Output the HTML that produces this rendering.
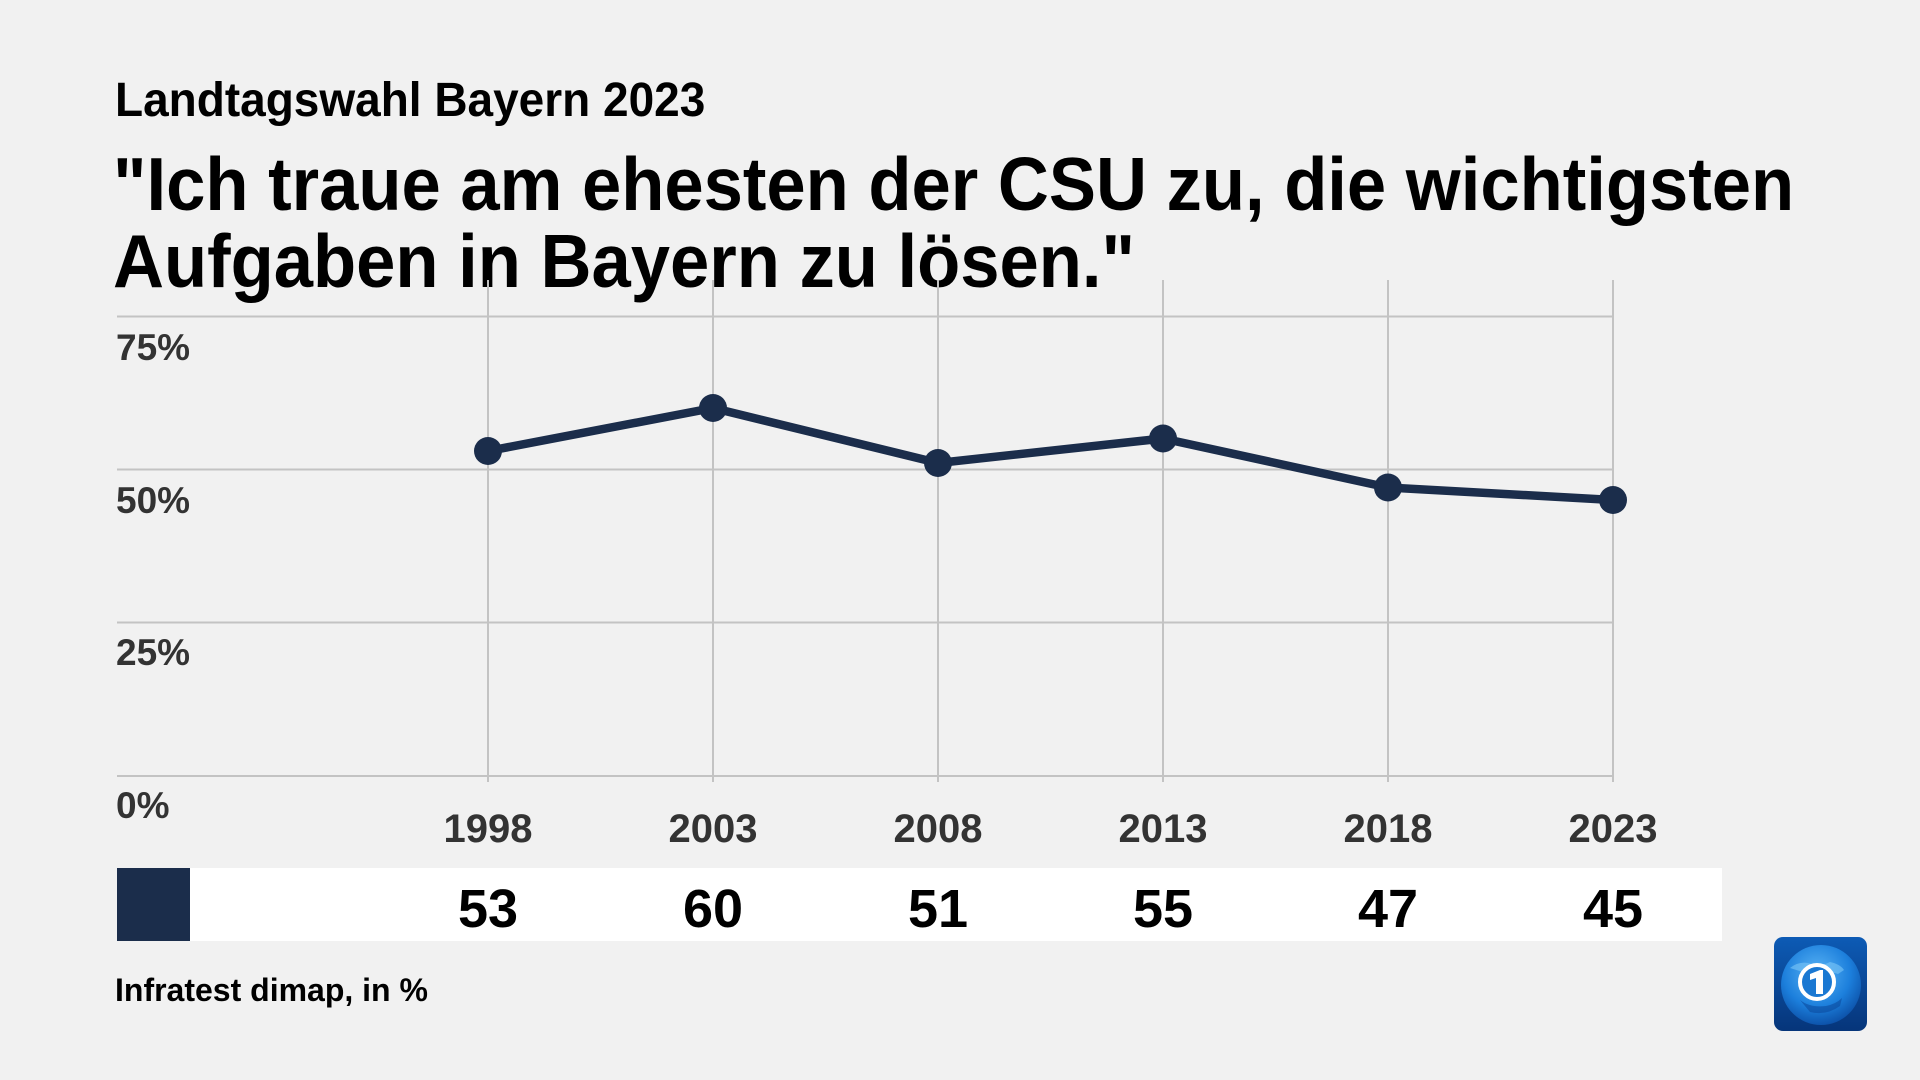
<!DOCTYPE html>
<html>
<head>
<meta charset="utf-8">
<style>
  html,body{margin:0;padding:0;background:#f1f1f1;}
  body{width:1920px;height:1080px;overflow:hidden;}
  svg{display:block;}
  text{font-family:"Liberation Sans",Arial,sans-serif;font-weight:bold;}
</style>
</head>
<body>
<svg width="1920" height="1080" viewBox="0 0 1920 1080" xmlns="http://www.w3.org/2000/svg">
  <defs>
    <linearGradient id="bg" x1="0" y1="0" x2="0" y2="1">
      <stop offset="0" stop-color="#0d5bb5"/>
      <stop offset="1" stop-color="#06357a"/>
    </linearGradient>
    <radialGradient id="globe" cx="0.45" cy="0.35" r="0.7">
      <stop offset="0" stop-color="#5ab4f5"/>
      <stop offset="0.6" stop-color="#1c7fdc"/>
      <stop offset="1" stop-color="#0a4aa0"/>
    </radialGradient>
  </defs>
  <rect x="0" y="0" width="1920" height="1080" fill="#f1f1f1"/>

  <!-- Headings -->
  <text transform="translate(115,116) scale(1,1.04)" font-size="46" fill="#000">Landtagswahl Bayern 2023</text>
  <text transform="translate(113,210) scale(1,1.07)" font-size="70.6" fill="#000">"Ich traue am ehesten der CSU zu, die wichtigsten</text>
  <text transform="translate(113,287) scale(1,1.07)" font-size="70.6" fill="#000">Aufgaben in Bayern zu lösen."</text>

  <!-- Grid -->
  <g stroke="#c3c3c3" stroke-width="2" fill="none">
    <line x1="117" y1="316.5" x2="1613" y2="316.5"/>
    <line x1="117" y1="469.5" x2="1613" y2="469.5"/>
    <line x1="117" y1="622.5" x2="1613" y2="622.5"/>
    <line x1="117" y1="776" x2="1613" y2="776"/>
    <line x1="488" y1="280" x2="488" y2="782"/>
    <line x1="713" y1="280" x2="713" y2="782"/>
    <line x1="938" y1="280" x2="938" y2="782"/>
    <line x1="1163" y1="280" x2="1163" y2="782"/>
    <line x1="1388" y1="280" x2="1388" y2="782"/>
    <line x1="1613" y1="280" x2="1613" y2="782"/>
  </g>

  <!-- Y labels -->
  <g font-size="37" fill="#333">
    <text x="116" y="360">75%</text>
    <text x="116" y="513">50%</text>
    <text x="116" y="665">25%</text>
    <text x="116" y="818">0%</text>
  </g>

  <!-- Series -->
  <polyline points="488,451 713,408 938,463 1163,438.5 1388,487.5 1613,500" fill="none" stroke="#1b2d4b" stroke-width="8.5" stroke-linejoin="round" stroke-linecap="round"/>
  <g fill="#1b2d4b">
    <circle cx="488" cy="451" r="14"/>
    <circle cx="713" cy="408" r="14"/>
    <circle cx="938" cy="463" r="14"/>
    <circle cx="1163" cy="438.5" r="14"/>
    <circle cx="1388" cy="487.5" r="14"/>
    <circle cx="1613" cy="500" r="14"/>
  </g>

  <!-- X labels -->
  <g font-size="40" fill="#333" text-anchor="middle">
    <text x="488" y="842">1998</text>
    <text x="713" y="842">2003</text>
    <text x="938" y="842">2008</text>
    <text x="1163" y="842">2013</text>
    <text x="1388" y="842">2018</text>
    <text x="1613" y="842">2023</text>
  </g>

  <!-- Value row -->
  <rect x="117" y="868" width="1605" height="73" fill="#ffffff"/>
  <rect x="117" y="868" width="73" height="73" fill="#1b2d4b"/>
  <g font-size="54" fill="#000" text-anchor="middle">
    <text x="488" y="927">53</text>
    <text x="713" y="927">60</text>
    <text x="938" y="927">51</text>
    <text x="1163" y="927">55</text>
    <text x="1388" y="927">47</text>
    <text x="1613" y="927">45</text>
  </g>

  <!-- Source -->
  <text x="115" y="1001" font-size="32" fill="#000">Infratest dimap, in %</text>

  <!-- Logo -->
  <g>
    <rect x="1774" y="937" width="93" height="94" rx="9" ry="9" fill="url(#bg)"/>
    <circle cx="1821" cy="985" r="40" fill="url(#globe)"/>
    <path d="M1790 968 q10 -8 22 -4 q8 3 18 -2 q10 2 14 8 l-6 4 q-8 -3 -14 2 q-10 2 -18 -3 z" fill="#7cc6f7" opacity="0.6"/>
    <path d="M1800 1000 q10 8 26 6 q10 -2 16 -8 l-2 8 q-14 10 -30 6 z" fill="#0b4b9e" opacity="0.6"/>
    <circle cx="1817" cy="982" r="17" fill="#1a78d2" stroke="#ffffff" stroke-width="4"/>
    <path d="M1810 974 l10 -4 l3 0 l0 24 l-7 0 l0 -16 l-6 2 z" fill="#ffffff"/>
  </g>
</svg>
</body>
</html>
